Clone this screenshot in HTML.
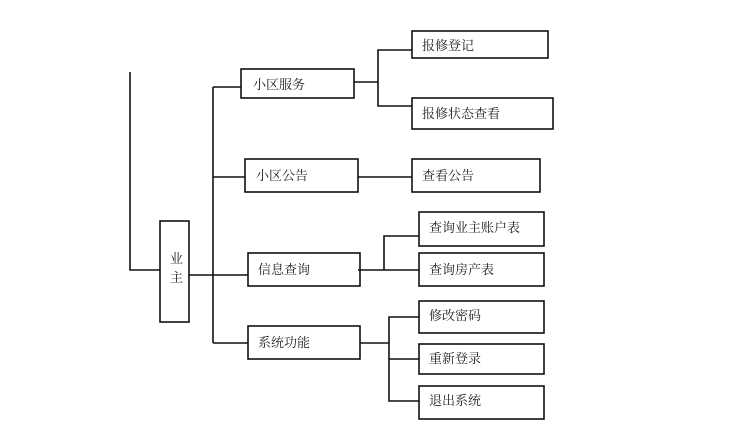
<!DOCTYPE html>
<html><head><meta charset="utf-8"><style>
body{margin:0;background:#fff;width:743px;height:429px;overflow:hidden}
svg text{font-family:"Liberation Serif","Noto Serif CJK SC",serif;font-size:13px;fill:#222}
</style></head><body>
<svg width="743" height="429" viewBox="0 0 743 429" xmlns="http://www.w3.org/2000/svg">
<g stroke="#111" stroke-width="1.6" fill="none">
<polyline points="130,72 130,270 160,270"/>
<rect x="160" y="221" width="29" height="101"/>
<line x1="189" y1="275" x2="248" y2="275"/>
<line x1="213" y1="87" x2="213" y2="343"/>
<line x1="213" y1="87" x2="241" y2="87"/>
<line x1="213" y1="177" x2="245" y2="177"/>
<line x1="213" y1="343" x2="248" y2="343"/>
<rect x="241" y="69" width="113" height="29"/>
<rect x="245" y="159" width="113" height="33"/>
<rect x="248" y="253" width="112" height="33"/>
<rect x="248" y="326" width="112" height="33"/>
<line x1="354" y1="82" x2="378" y2="82"/>
<polyline points="412,50 378,50 378,106 412,106"/>
<line x1="358" y1="177" x2="412" y2="177"/>
<line x1="358" y1="270" x2="419" y2="270"/>
<polyline points="419,236 384,236 384,270"/>
<line x1="360" y1="343" x2="389" y2="343"/>
<polyline points="419,317 389,317 389,401 419,401"/>
<line x1="389" y1="359" x2="419" y2="359"/>
<rect x="412" y="31" width="136" height="27"/>
<rect x="412" y="98" width="141" height="31"/>
<rect x="412" y="159" width="128" height="33"/>
<rect x="419" y="212" width="125" height="34"/>
<rect x="419" y="253" width="125" height="33"/>
<rect x="419" y="301" width="125" height="32"/>
<rect x="419" y="344" width="125" height="30"/>
<rect x="419" y="386" width="125" height="33"/>
</g>
<text x="170" y="263">业</text>
<text x="170" y="282">主</text>
<text x="253" y="89">小区服务</text>
<text x="256" y="180">小区公告</text>
<text x="258" y="274">信息查询</text>
<text x="258" y="347">系统功能</text>
<text x="422" y="50">报修登记</text>
<text x="422" y="118">报修状态查看</text>
<text x="422" y="180">查看公告</text>
<text x="429" y="232">查询业主账户表</text>
<text x="429" y="274">查询房产表</text>
<text x="429" y="320">修改密码</text>
<text x="429" y="363">重新登录</text>
<text x="429" y="405">退出系统</text>
</svg>
</body></html>
